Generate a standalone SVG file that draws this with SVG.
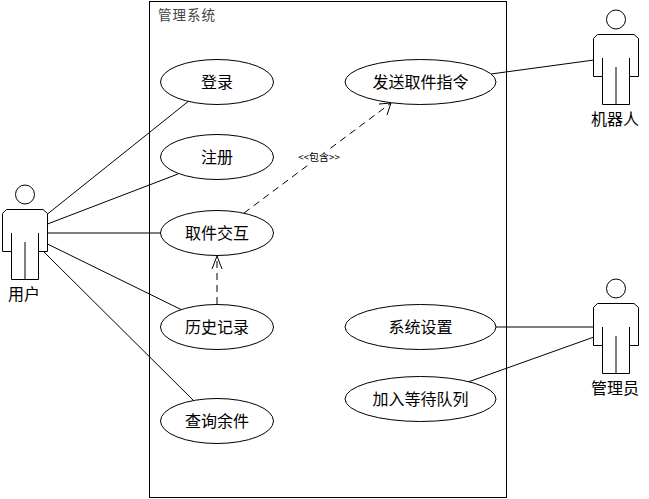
<svg xmlns="http://www.w3.org/2000/svg" width="649" height="499" viewBox="0 0 649 499">
<style>
.s{fill:none;stroke:#000;stroke-width:1}
.u{fill:#fff;stroke:#000;stroke-width:1}
.c{stroke:#000;stroke-width:1;fill:none}
.d{stroke:#000;stroke-width:1;fill:none;stroke-dasharray:7 5}
text{font-family:"Noto Sans CJK SC","Liberation Sans",sans-serif;fill:#000}
.l{font-size:16px;text-anchor:middle}
.a{font-size:16px;text-anchor:middle}
</style>
<defs>
<g id="actor">
<circle class="s" cx="25" cy="194.500" r="9.500"/>
<path class="s" d="M2.500 213.500L6.500 209.500H43L47.500 213.500V251.500H38.500V233M38.500 233V279.500H11.500V233M11.500 251.500H2.500V213.500M25 242V279.500"/>
</g>
</defs>
<rect x="149.500" y="1.500" width="357" height="496" fill="#fff" stroke="#000"/>
<text x="158" y="20" font-size="13.500" letter-spacing="1" style="fill:#444">管理系统</text>
<g id="connectors">
<line class="c" x1="47.500" y1="214" x2="190" y2="100"/>
<line class="c" x1="47.500" y1="224" x2="178" y2="174"/>
<line class="c" x1="47.500" y1="233" x2="161" y2="233"/>
<line class="c" x1="47.500" y1="244" x2="182" y2="310"/>
<line class="c" x1="43" y1="251" x2="194" y2="401"/>
<line class="c" x1="491" y1="74" x2="594" y2="60"/>
<line class="c" x1="496" y1="327" x2="594" y2="327"/>
<line class="c" x1="468" y1="382" x2="594" y2="337"/>
<line class="d" x1="244" y1="213" x2="391" y2="103"/>
<path class="c" d="M379 104L391 103L387 115"/>
<line class="d" x1="217" y1="304" x2="217" y2="256"/>
<path class="c" d="M212 269L217 256L222 269"/>
</g>
<rect x="296" y="151" width="45" height="13" fill="#fff"/>
<text x="319" y="161" font-size="10" text-anchor="middle">&lt;&lt;包含&gt;&gt;</text>
<g id="uc-login"><ellipse class="u" cx="217" cy="82" rx="56.500" ry="22.500"/><text class="l" x="217" y="87.500">登录</text></g>
<g id="uc-register"><ellipse class="u" cx="217" cy="157" rx="56.500" ry="22.500"/><text class="l" x="217" y="162.500">注册</text></g>
<g id="uc-pickup"><ellipse class="u" cx="217" cy="233" rx="56.500" ry="22.500"/><text class="l" x="217" y="238.500">取件交互</text></g>
<g id="uc-history"><ellipse class="u" cx="217" cy="327" rx="56.500" ry="22.500"/><text class="l" x="217" y="332.500">历史记录</text></g>
<g id="uc-query"><ellipse class="u" cx="217" cy="421" rx="56.500" ry="22.500"/><text class="l" x="217" y="426.500">查询余件</text></g>
<g id="uc-send"><ellipse class="u" cx="420.500" cy="82" rx="75.500" ry="22.500"/><text class="l" x="420.500" y="87.500">发送取件指令</text></g>
<g id="uc-settings"><ellipse class="u" cx="420.500" cy="327" rx="75.500" ry="22.500"/><text class="l" x="420.500" y="332.500">系统设置</text></g>
<g id="uc-queue"><ellipse class="u" cx="420.500" cy="399" rx="75.500" ry="22.500"/><text class="l" x="420.500" y="404.500">加入等待队列</text></g>
<g id="actor-user"><use href="#actor"/><text class="a" x="24" y="300">用户</text></g>
<g id="actor-robot"><use href="#actor" transform="translate(591 -175)"/><text class="a" x="615" y="125">机器人</text></g>
<g id="actor-admin"><use href="#actor" transform="translate(591 94)"/><text class="a" x="615" y="394">管理员</text></g>
</svg>
